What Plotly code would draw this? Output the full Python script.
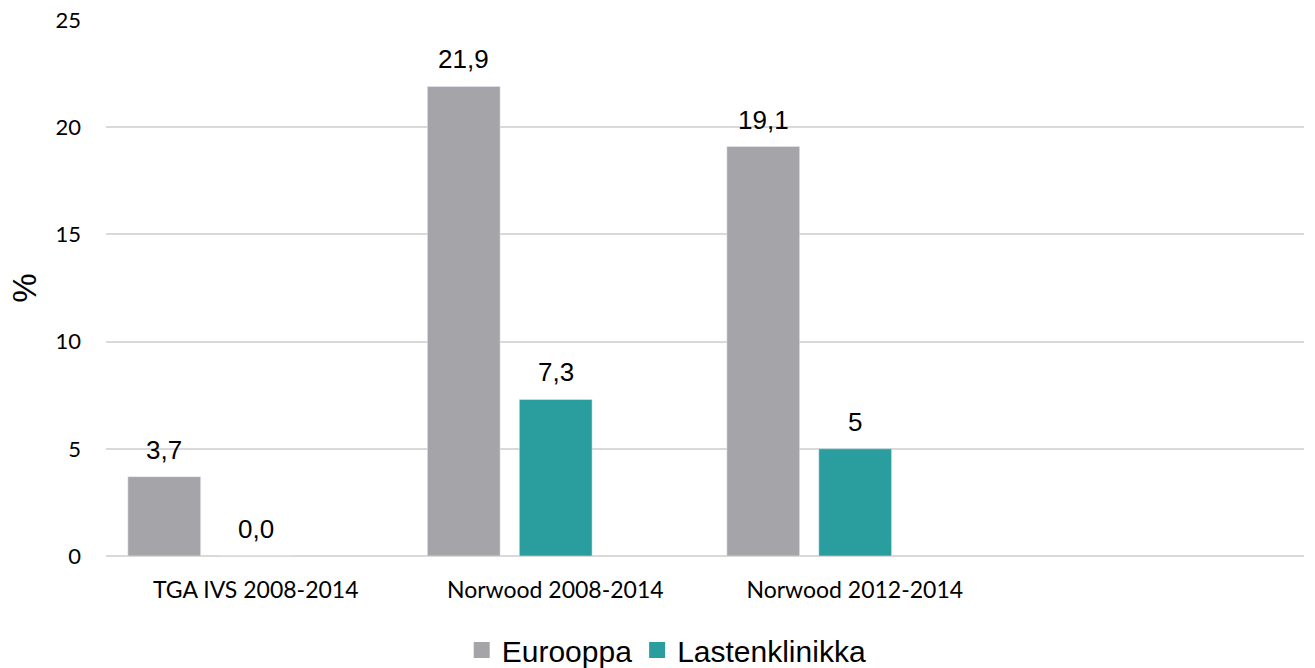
import plotly.graph_objects as go

# Category labels (a fourth, unlabeled slot keeps the empty space on the right)
categories = ["TGA IVS 2008-2014", "Norwood 2008-2014", "Norwood 2012-2014"]
eurooppa = [3.7, 21.9, 19.1]
lastenklinikka = [0.0, 7.3, 5.0]
eurooppa_labels = ["3,7", "21,9", "19,1"]
lastenklinikka_labels = ["0,0", "7,3", "5"]
y_ticks = [0, 5, 10, 15, 20, 25]

x_pos = list(range(len(categories)))
bar_w = 0.243
offsets = {"Eurooppa": -0.427, "Lastenklinikka": -0.12}

label_font = dict(family="Liberation Sans, Arial, sans-serif", size=26, color="#000000")

fig = go.Figure()
series = [
    ("Eurooppa", eurooppa, eurooppa_labels, "#A5A5A9"),
    ("Lastenklinikka", lastenklinikka, lastenklinikka_labels, "#2A9D9F"),
]
for name, vals, labels, color in series:
    off = offsets[name]
    fig.add_trace(go.Bar(
        x=x_pos, y=vals, name=name,
        width=bar_w, offset=off,
        marker=dict(color=color),
        showlegend=False, legendgroup=name,
    ))
    # legend entry with a larger square swatch
    fig.add_trace(go.Scatter(
        x=[None], y=[None], mode="markers", name=name, legendgroup=name,
        marker=dict(symbol="square", size=16, color=color, line=dict(width=0)),
    ))
    # value labels above each bar
    for xi, v, lab in zip(x_pos, vals, labels):
        fig.add_annotation(
            x=xi + off + bar_w / 2, y=v, text=lab, showarrow=False,
            yanchor="middle", yshift=27, font=label_font,
        )

fig.update_layout(
    width=1315, height=668,
    margin=dict(l=106, r=11, t=20, b=112, autoexpand=False),
    paper_bgcolor="white", plot_bgcolor="white",
    barmode="overlay",
    showlegend=True,
    legend=dict(
        orientation="h", xref="container", x=0.507, xanchor="center",
        yref="container", y=0.027, yanchor="middle",
        font=dict(family="Liberation Sans, Arial, sans-serif", size=30, color="#000000"),
        traceorder="normal", itemwidth=30, itemsizing="trace",
    ),
)
fig.update_xaxes(
    range=[-0.5, 3.5],
    tickmode="array", tickvals=x_pos, ticktext=categories,
    tickfont=dict(family="Lato, Open Sans, sans-serif", size=23, color="#000000"),
    showgrid=False, zeroline=False, showline=False, ticks="",
    ticklabelstandoff=18, automargin=False,
)
fig.update_yaxes(
    range=[0, 25],
    tickmode="array", tickvals=y_ticks,
    tickfont=dict(family="Lato, Open Sans, sans-serif", size=22, color="#000000"),
    showgrid=True, gridcolor="#D9D9D9", gridwidth=1.5,
    zeroline=True, zerolinecolor="#D9D9D9", zerolinewidth=1.5,
    showline=False, ticks="", ticklabelstandoff=24, automargin=False,
    title=dict(text="%", font=dict(family="Liberation Sans, Arial, sans-serif", size=33, color="#000000"), standoff=8),
)

fig.write_html("out.html")
